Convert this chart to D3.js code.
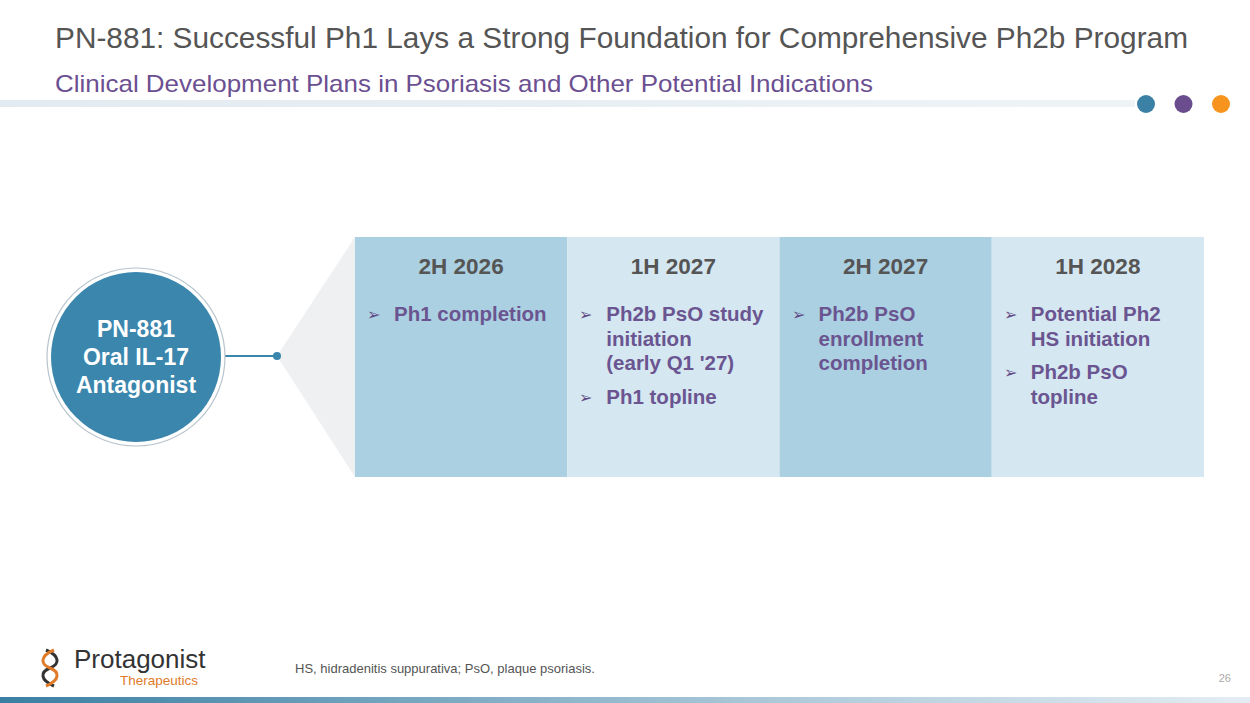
<!DOCTYPE html>
<html lang="en">
<head>
<meta charset="UTF-8">
<title>PN-881 timeline</title>
<script src="https://cdnjs.cloudflare.com/ajax/libs/d3/7.8.5/d3.min.js"></script>
<style>
  body { margin: 0; background: #fff; }
  svg { display: block; font-family: "Liberation Sans", Arial, sans-serif; }
</style>
</head>
<body>
<svg width="1250" height="703"></svg>
<script>
// timeline data
const periods = ["2H 2026", "1H 2027", "2H 2027", "1H 2028"];
const milestones = [
  [["Ph1 completion"]],
  [["Ph2b PsO study", "initiation", "(early Q1 '27)"], ["Ph1 topline"]],
  [["Ph2b PsO", "enrollment", "completion"]],
  [["Potential Ph2", "HS initiation"], ["Ph2b PsO", "topline"]]
];
const colFill = ["#abd0e1", "#d5e7f1", "#abd0e1", "#d5e7f1"];
const headerDots = ["#3b80a5", "#6a4d8e", "#f7941d"];

const svg = d3.select("svg");
const defs = svg.append("defs");

const g1 = defs.append("linearGradient").attr("id", "topbar");
g1.append("stop").attr("offset", "0%").attr("stop-color", "#e2ebf1");
g1.append("stop").attr("offset", "100%").attr("stop-color", "#eef3f6");
const g2 = defs.append("linearGradient").attr("id", "botbar");
g2.append("stop").attr("offset", "0%").attr("stop-color", "#3a7fa3");
g2.append("stop").attr("offset", "60%").attr("stop-color", "#a9c7d8");
g2.append("stop").attr("offset", "100%").attr("stop-color", "#e4edf3");

// header
svg.append("text").attr("x", 55).attr("y", 48).attr("font-size", 29).attr("fill", "#555")
  .attr("textLength", 1133).attr("lengthAdjust", "spacingAndGlyphs")
  .text("PN-881: Successful Ph1 Lays a Strong Foundation for Comprehensive Ph2b Program");
svg.append("text").attr("x", 55).attr("y", 92).attr("font-size", 24).attr("fill", "#6b4f91")
  .attr("textLength", 818).attr("lengthAdjust", "spacingAndGlyphs")
  .text("Clinical Development Plans in Psoriasis and Other Potential Indications");
svg.append("rect").attr("x", 0).attr("y", 100).attr("width", 1135).attr("height", 7).attr("fill", "url(#topbar)");
const dx = d3.scalePoint().domain(d3.range(headerDots.length)).range([1146, 1221]);
svg.selectAll("circle.hd").data(headerDots).join("circle").attr("class", "hd")
  .attr("cx", (d, i) => dx(i)).attr("cy", 104).attr("r", 9).attr("fill", d => d);

// columns
const x = d3.scaleBand().domain(periods).range([355, 1204]);
const yTop = 237, yBottom = 477;

svg.append("polygon")
  .attr("points", `277,356 ${x.range()[0]},${yTop} ${x.range()[0]},${yBottom}`)
  .attr("fill", "#eef0f2");

const col = svg.selectAll("g.col").data(periods).join("g").attr("class", "col")
  .attr("transform", d => `translate(${x(d)},0)`);
col.append("rect").attr("y", yTop).attr("width", x.bandwidth()).attr("height", yBottom - yTop)
  .attr("fill", (d, i) => colFill[i]);
col.append("text").attr("x", x.bandwidth() / 2).attr("y", 274).attr("text-anchor", "middle")
  .attr("font-size", 22.5).attr("font-weight", "bold").attr("fill", "#555").text(d => d);

col.each(function (d, i) {
  const g = d3.select(this);
  let y = 321;
  milestones[i].forEach(lines => {
    g.append("text").attr("x", 12).attr("y", y - 1).attr("font-size", 16).attr("fill", "#5e4a85").text("➢");
    lines.forEach((l, k) => {
      g.append("text").attr("x", 39).attr("y", y + k * 24.5).attr("font-size", 20.5)
        .attr("font-weight", "bold").attr("fill", "#6a5590").text(l);
    });
    y += (lines.length - 1) * 24.5 + 33.5;
  });
});

// circle node
svg.append("line").attr("x1", 224).attr("x2", 277).attr("y1", 356).attr("y2", 356)
  .attr("stroke", "#3a86ad").attr("stroke-width", 2);
svg.append("circle").attr("cx", 277).attr("cy", 356).attr("r", 4).attr("fill", "#3a86ad");
svg.append("circle").attr("cx", 136).attr("cy", 357).attr("r", 89).attr("fill", "#fff")
  .attr("stroke", "#b8c4cc").attr("stroke-width", 1.2);
svg.append("circle").attr("cx", 136).attr("cy", 357).attr("r", 85).attr("fill", "#3a86ad");
["PN-881", "Oral IL-17", "Antagonist"].forEach((t, i) => {
  svg.append("text").attr("x", 136).attr("y", 337 + i * 28).attr("text-anchor", "middle")
    .attr("font-size", 23).attr("font-weight", "bold").attr("fill", "#fff").text(t);
});

// footer
const logo = svg.append("g");
logo.append("path").attr("d", "M46,650 C60,656 60,664 50,668 C40,672 40,680 54,686")
  .attr("fill", "none").attr("stroke", "#333").attr("stroke-width", 3);
logo.append("path").attr("d", "M54,650 C40,656 40,664 50,668 C60,672 60,680 46,686")
  .attr("fill", "none").attr("stroke", "#e07b2a").attr("stroke-width", 3);
logo.append("text").attr("x", 74).attr("y", 668).attr("font-size", 26).attr("fill", "#333").text("Protagonist");
logo.append("text").attr("x", 120).attr("y", 685).attr("font-size", 13.5).attr("fill", "#e07b2a").text("Therapeutics");
svg.append("text").attr("x", 295).attr("y", 673).attr("font-size", 13).attr("fill", "#555")
  .text("HS, hidradenitis suppurativa; PsO, plaque psoriasis.");
svg.append("text").attr("x", 1231).attr("y", 682).attr("font-size", 11).attr("text-anchor", "end").attr("fill", "#aaa").text("26");
svg.append("rect").attr("x", 0).attr("y", 697).attr("width", 1250).attr("height", 6).attr("fill", "url(#botbar)");
</script>
</body>
</html>
